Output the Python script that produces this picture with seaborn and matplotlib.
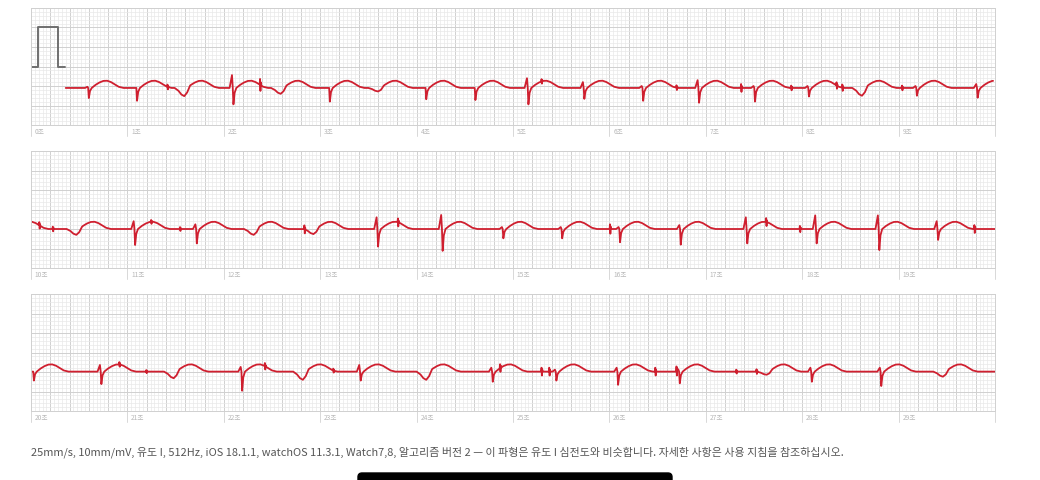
import numpy as np
import pandas as pd
import matplotlib
matplotlib.use("Agg")
import matplotlib.pyplot as plt
from matplotlib.patches import FancyBboxPatch
from matplotlib.ticker import MultipleLocator
from matplotlib.transforms import blended_transform_factory
import seaborn as sns

# ----------------- data read off the strip -----------------
# beat times (s), QRS dip (mV below baseline), small R spike (mV), wide dip or sharp
beat_t = [0.60, 1.10, 1.59, 2.10, 2.59, 3.10, 3.60, 4.10, 4.61, 5.16, 5.74, 6.35, 6.93, 7.51, 8.07, 8.62, 9.19, 9.82,
          10.47, 11.08, 11.72, 12.31, 12.93, 13.60, 14.27, 14.90, 15.51, 16.11, 16.74, 17.43, 18.15, 18.80, 19.41,
          20.03, 20.73, 21.48, 22.19, 22.82, 23.42, 24.10, 24.79, 25.45, 26.09, 26.73, 27.63, 28.10, 28.82, 29.46]
beat_dip = [-0.26, -0.33, -0.21, -0.42, -0.15, -0.35, -0.09, -0.29, -0.31, -0.42, -0.28, -0.33, -0.38, -0.35, -0.22, -0.20, -0.20, -0.25,
            -0.15, -0.41, -0.37, -0.15, -0.13, -0.45, -0.56, -0.24, -0.24, -0.34, -0.40, -0.37, -0.37, -0.54, -0.28,
            -0.23, -0.32, -0.17, -0.49, -0.21, -0.23, -0.21, -0.26, -0.23, -0.34, -0.30, -0.08, -0.26, -0.37, -0.13]
beat_up = [0.03, 0.0, 0.0, 0.33, 0.0, 0.0, 0.0, 0.0, 0.0, 0.25, 0.15, 0.05, 0.20, 0.05, 0.05, 0.0, 0.05, 0.10,
           0.0, 0.20, 0.12, 0.0, 0.0, 0.30, 0.36, 0.05, 0.05, 0.05, 0.10, 0.30, 0.35, 0.35, 0.20,
           0.0, 0.17, 0.0, 0.12, 0.0, 0.17, 0.0, 0.10, 0.05, 0.10, 0.05, 0.0, 0.10, 0.10, 0.0]
beat_wide = [0, 0, 1, 0, 1, 0, 1, 0, 0, 0, 0, 0, 0, 0, 0, 1, 0, 0,
             1, 0, 0, 1, 1, 0, 0, 0, 0, 0, 0, 0, 0, 0, 0,
             0, 0, 1, 0, 1, 0, 1, 0, 0, 0, 0, 1, 0, 0, 1]

# small noise spikes (s, mV)
spike_t = [1.42, 2.38, 5.30, 6.70, 7.37, 7.89, 8.36, 8.42, 9.04,
           10.09, 10.23, 11.25, 11.55, 12.84, 13.81, 16.01, 17.63, 17.98, 19.79,
           20.92, 21.20, 22.43, 23.14, 24.87, 25.30, 25.38, 26.48, 26.70, 27.32, 27.53]
spike_amp = [0.06, 0.15, 0.06, 0.06, 0.10, 0.06, 0.08, 0.08, 0.06,
             0.08, 0.06, 0.05, 0.05, 0.10, 0.10, 0.12, 0.10, 0.08, 0.10,
             0.06, 0.04, 0.08, 0.05, 0.10, 0.10, 0.10, 0.10, 0.12, 0.05, 0.06]

# shapes (offset s, mV) read from single beats
sharp_off = [-0.04, -0.015, -0.007, 0.0, 0.012, 0.03]
wide_off = [-0.10, -0.06, -0.03, 0.0, 0.03, 0.06]
wide_frac = [0, 0.35, 0.8, 1.0, 0.55, 0]
twave_off = [0.03, 0.07, 0.11, 0.15, 0.19, 0.23, 0.27, 0.31, 0.36]
twave_mv = [0, 0.08, 0.14, 0.18, 0.185, 0.15, 0.09, 0.03, 0]
spike_off = [-0.008, -0.004, 0.0, 0.004, 0.008]
spike_frac = [0, 1, -1, 0.5, 0]

row_start = [0.36, 10.0, 20.0]
row_end = [9.98, 20.0, 30.0]
row_base = [-0.55, -0.50, -0.49]

cal_t = [0.0, 0.073, 0.073, 0.28, 0.28, 0.35]
cal_mv = [0, 0, 1, 1, 0, 0]

footer = ("25mm/s, 10mm/mV, 유도 I, 512Hz, iOS 18.1.1, watchOS 11.3.1, Watch7,8, 알고리즘 버전 2 — "
          "이 파형은 유도 I 심전도와 비슷합니다. 자세한 사항은 사용 지침을 참조하십시오.")

# ----------------- build the trace -----------------
parts = []
for t, d, u, w in zip(beat_t, beat_dip, beat_up, beat_wide):
    if w:
        parts.append(([t + o for o in wide_off], [d * f for f in wide_frac]))
    else:
        parts.append(([t + o for o in sharp_off], [0, u, 0, d, 0.3 * d, 0]))
    parts.append(([t + o for o in twave_off], twave_mv))
for t, a in zip(spike_t, spike_amp):
    parts.append(([t + o for o in spike_off], [a * f for f in spike_frac]))

rows = []
for i in range(3):
    ts = [row_start[i], row_end[i]]
    for pt, pv in parts:
        ts += [x for x in pt if row_start[i] <= x <= row_end[i]]
    ts = np.unique(ts)
    mv = np.full(len(ts), row_base[i])
    for pt, pv in parts:
        mv += np.interp(ts, pt, pv, left=0, right=0)
    rows.append(pd.DataFrame({"t": ts, "mv": mv}))

# ----------------- draw -----------------
sns.set_style("white")
plt.rcParams["font.family"] = ["Noto Sans CJK KR", "DejaVu Sans"]

fig = plt.figure(figsize=(10.4, 4.8), dpi=100)
red = "#cf1f2f"
tops = [8, 151, 294]

for i in range(3):
    ax = fig.add_axes([31 / 1040, 1 - (tops[i] + 117) / 480, 964 / 1040, 117 / 480])
    x0 = i * 10
    ax.set_xlim(x0, x0 + 10)
    ax.set_ylim(-1.5, 1.5)
    ax.xaxis.set_major_locator(MultipleLocator(0.2))
    ax.xaxis.set_minor_locator(MultipleLocator(0.04))
    ax.yaxis.set_major_locator(MultipleLocator(0.5))
    ax.yaxis.set_minor_locator(MultipleLocator(0.1))
    ax.grid(which="minor", color="#e9e9e9", lw=0.5)
    ax.grid(which="major", color="#d0d0d0", lw=0.7)
    ax.set_axisbelow(True)
    ax.tick_params(which="both", length=0, labelbottom=False, labelleft=False)
    for s in ax.spines.values():
        s.set_color("#d0d0d0")
        s.set_linewidth(0.7)

    if i == 0:
        ax.plot(cal_t, cal_mv, color="#6f6f6f", lw=1.4)

    sns.lineplot(data=rows[i], x="t", y="mv", ax=ax, color=red, lw=1.3,
                 estimator=None, sort=False)
    ax.set_xlabel("")
    ax.set_ylabel("")

    trans = blended_transform_factory(ax.transData, ax.transAxes)
    for sec in range(x0, x0 + 10):
        ax.plot([sec, sec], [0, -0.09], color="#d8d8d8", lw=0.7, transform=trans, clip_on=False)
        ax.text(sec + 0.04, -0.06, f"{sec}초", transform=trans, fontsize=4.8,
                color="#b8b8b8", va="center", ha="left")
    ax.plot([x0 + 10, x0 + 10], [0, -0.09], color="#d8d8d8", lw=0.7, transform=trans, clip_on=False)

fig.text(31 / 1040, 1 - 452 / 480, footer, fontsize=7.9, color="#555555", va="center", ha="left")

bar = FancyBboxPatch((3.58, -0.06), 3.14, 0.13, boxstyle="round,pad=0,rounding_size=0.04",
                     transform=fig.dpi_scale_trans, color="black")
fig.add_artist(bar)

fig.savefig("out.png", dpi=100)
plt.close()
